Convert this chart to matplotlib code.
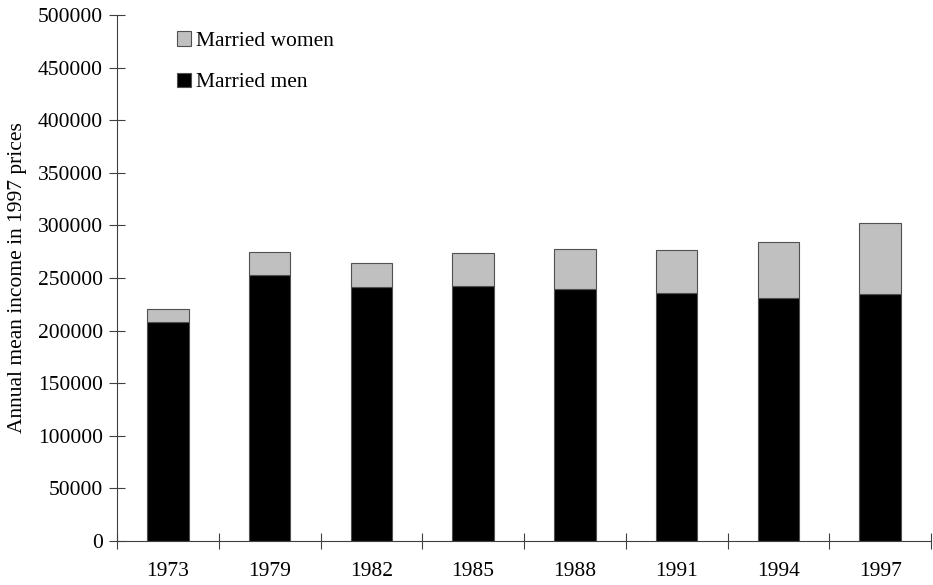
import numpy as np
import matplotlib.pyplot as plt

years = ["1973", "1979", "1982", "1985", "1988", "1991", "1994", "1997"]
men = [208000, 252700, 241900, 242600, 240000, 235600, 230800, 235000]
totals = [220400, 274900, 263800, 273900, 278000, 277000, 284000, 302000]
women = [t - m for t, m in zip(totals, men)]

plt.rcParams['font.family'] = ['Liberation Serif', 'DejaVu Serif']

fig = plt.figure(figsize=(9.33, 5.85), dpi=100)
ax = fig.add_axes([117/933, 1-541/585, (931-117)/933, (541-15)/585])

x = np.arange(len(years))
edge = '#505050'
ax.bar(x, men, width=0.41, color='black', edgecolor=edge, linewidth=0.8, label='Married men')
ax.bar(x, women, bottom=men, width=0.41, color='#c0c0c0', edgecolor=edge, linewidth=0.8,
       label='Married women')

ax.set_xlim(-0.5, len(years) - 0.5)
ax.set_ylim(0, 500000)
ax.set_yticks(np.arange(0, 500001, 50000))
ax.set_xticks(x)
ax.set_xticklabels(years)
ax.set_xticks(np.arange(-0.5, len(years), 1.0), minor=True)

ax.tick_params(axis='x', which='major', length=0, pad=15, labelsize=15.5)
ax.tick_params(axis='x', which='minor', direction='inout', length=11, width=0.8, color='#404040')
ax.tick_params(axis='y', direction='inout', length=12, width=0.8, color='#404040', pad=4, labelsize=15.5)

for s in ['top', 'right']:
    ax.spines[s].set_visible(False)
for s in ['left', 'bottom']:
    ax.spines[s].set_color('#404040')
    ax.spines[s].set_linewidth(0.8)

ax.set_ylabel("Annual mean income in 1997 prices", fontsize=15.5, labelpad=8)

handles, labels = ax.get_legend_handles_labels()
ax.legend(handles[::-1], labels[::-1], loc='upper left', bbox_to_anchor=(158/933, 1-12/585),
          bbox_transform=fig.transFigure, frameon=False, fontsize=15.5,
          handlelength=0.65, handleheight=0.65, handletextpad=0.2, labelspacing=1.0)

fig.savefig("out.png", dpi=100)
